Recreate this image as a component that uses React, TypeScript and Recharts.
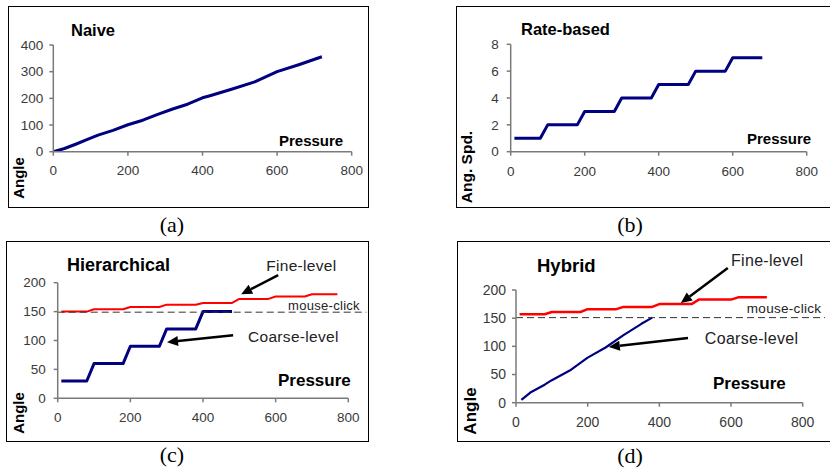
import React from 'react';
import { LineChart, Line, XAxis, YAxis, ReferenceLine } from 'recharts';

// ---------- data ----------
const xTicks = [0, 200, 400, 600, 800];

const naivePressure = [0, 30, 60, 90, 120, 160, 200, 240, 280, 320, 360, 400, 420, 480, 540, 600, 660, 720];
const naiveAngle = [0, 12, 28, 45, 62, 80, 101, 118, 140, 160, 178, 202, 210, 235, 262, 300, 327, 356];
const naiveYTicks = [0, 100, 200, 300, 400];

const ratePressure = [10, 80, 100, 180, 200, 280, 300, 380, 400, 480, 500, 580, 600, 680];
const rateSpeed = [1, 1, 2, 2, 3, 3, 4, 4, 5, 5, 6, 6, 7, 7];
const rateYTicks = [0, 2, 4, 6, 8];

const hierCoarsePressure = [10, 80, 100, 180, 200, 280, 300, 380, 400, 480];
const hierCoarseAngle = [30, 30, 60, 60, 90, 90, 120, 120, 150, 150];
const hierFinePressure = [10, 80, 100, 180, 200, 280, 300, 380, 400, 480, 500, 580, 600, 680, 700, 770];
const hierFineAngle = [150, 150, 154, 154, 158, 158, 162, 162, 165, 165, 172, 172, 176, 176, 180, 180];

const hybCoarsePressure = [15, 40, 80, 100, 150, 200, 250, 300, 350, 380];
const hybCoarseAngle = [5, 18, 32, 40, 57, 80, 98, 120, 140, 151];
const hybFinePressure = [10, 80, 100, 180, 200, 280, 300, 380, 400, 490, 510, 600, 620, 700];
const hybFineAngle = [157, 157, 161, 161, 166, 166, 170, 170, 175, 175, 183, 183, 187, 187];
const angleYTicks = [0, 50, 100, 150, 200];

// annotations (data coordinates)
const hierClickLevel = 149;
const hybClickLevel = 151;
const hierClickSpan = [0, 850];
const hybClickSpan = [0, 862];
const hierFineArrow = [{ x: 607, y: 213 }, { x: 505, y: 180 }];
const hierCoarseArrow = [{ x: 483, y: 109 }, { x: 301, y: 97 }];
const hybFineArrow = [{ x: 591, y: 239 }, { x: 460, y: 177 }];
const hybCoarseArrow = [{ x: 480, y: 115 }, { x: 259, y: 99 }];
const hierTexts = [
  { label: 'Fine-level', x: 574, y: 220, size: 15.5 },
  { label: 'Coarse-level', x: 524, y: 97, size: 15.5 },
  { label: 'mouse-click', x: 634, y: 153, size: 13 },
];
const hybTexts = [
  { label: 'Fine-level', x: 600, y: 243, size: 16 },
  { label: 'Coarse-level', x: 527, y: 104, size: 16 },
  { label: 'mouse-click', x: 644, y: 159, size: 13.5 },
];

const zip = (xs: number[], ys: number[]) => xs.map((x, i) => ({ x, y: ys[i] }));

const SANS = '"Liberation Sans", Arial, sans-serif';
const SERIF = '"Liberation Serif", "Times New Roman", serif';
const NAVY = '#000080';
const RED = '#ff0000';
const AXIS = '#7a7a7a';

const ArrowShape = (props: any) => {
  const { x1, y1, x2, y2 } = props;
  const dx = x2 - x1;
  const dy = y2 - y1;
  const len = Math.hypot(dx, dy) || 1;
  const ux = dx / len;
  const uy = dy / len;
  const hl = 11;
  const hw = 5;
  const bx = x2 - ux * hl;
  const by = y2 - uy * hl;
  return (
    <g>
      <line x1={x1} y1={y1} x2={bx} y2={by} stroke="#000" strokeWidth={2.5} />
      <polygon
        points={`${x2},${y2} ${bx - uy * hw},${by + ux * hw} ${bx + uy * hw},${by - ux * hw}`}
        fill="#000"
      />
    </g>
  );
};

const textShape = (label: string, size: number) => (props: any) => (
  <text x={props.x1} y={props.y1} fontFamily={SANS} fontSize={size} fill="#222" letterSpacing={0.3}>
    {label}
  </text>
);

type Box = { left: number; top: number; width: number; height: number };
type Plot = { left: number; right: number; top: number; bottom: number };
type Series = { data: { x: number; y: number }[]; color: string; width: number };

const YW = 40;
const XH = 30;

function Panel(props: {
  box: Box;
  plot: Plot;
  yDomain: [number, number];
  yTicks: number[];
  yTickMargin: number;
  xTickMargin: number;
  fontSize: number;
  series: Series[];
  children?: React.ReactNode;
}) {
  const { box, plot, yDomain, yTicks, yTickMargin, xTickMargin, fontSize, series, children } = props;
  const margin = {
    top: plot.top - box.top,
    left: plot.left - box.left - YW,
    right: box.left + box.width - plot.right,
    bottom: box.top + box.height - plot.bottom - XH,
  };
  const tick = { fill: '#3a3a3a', fontSize, fontFamily: SANS };
  return (
    <div style={{ position: 'absolute', left: box.left, top: box.top }}>
      <LineChart width={box.width} height={box.height} margin={margin}>
        <XAxis
          type="number"
          dataKey="x"
          domain={[0, 800]}
          ticks={xTicks}
          height={XH}
          tick={tick}
          tickSize={4}
          tickMargin={xTickMargin}
          axisLine={{ stroke: AXIS, strokeWidth: 1.5 }}
          tickLine={{ stroke: AXIS, strokeWidth: 1.5 }}
          allowDataOverflow
        />
        <YAxis
          type="number"
          dataKey="y"
          domain={yDomain}
          ticks={yTicks}
          width={YW}
          tick={tick}
          tickSize={4}
          tickMargin={yTickMargin}
          axisLine={{ stroke: AXIS, strokeWidth: 1.5 }}
          tickLine={{ stroke: AXIS, strokeWidth: 1.5 }}
          allowDataOverflow
        />
        {series.map((s, i) => (
          <Line
            key={i}
            data={s.data}
            dataKey="y"
            type="linear"
            stroke={s.color}
            strokeWidth={s.width}
            dot={false}
            activeDot={false}
            isAnimationActive={false}
            strokeLinejoin="round"
          />
        ))}
        {children}
      </LineChart>
    </div>
  );
}

function annotations(
  level: number,
  span: number[],
  arrows: { x: number; y: number }[][],
  texts: { label: string; x: number; y: number; size: number }[]
) {
  const out: React.ReactNode[] = [];
  out.push(
    <ReferenceLine
      key="click"
      segment={[{ x: span[0], y: level }, { x: span[1], y: level }]}
      stroke="#333"
      strokeWidth={1}
      strokeDasharray="7 4"
      ifOverflow="visible"
    />
  );
  arrows.forEach((a, i) =>
    out.push(<ReferenceLine key={'a' + i} segment={a} ifOverflow="visible" shape={ArrowShape} />)
  );
  texts.forEach((t, i) =>
    out.push(
      <ReferenceLine
        key={'t' + i}
        segment={[{ x: t.x, y: t.y }, { x: t.x, y: t.y }]}
        ifOverflow="visible"
        shape={textShape(t.label, t.size)}
      />
    )
  );
  return out;
}

export default function App() {
  return (
    <div style={{ position: 'absolute', left: 0, top: 0, width: 830, height: 469, background: '#fff', overflow: 'hidden' }}>
      <Panel
        box={{ left: 8, top: 6, width: 361, height: 202 }}
        plot={{ left: 53.3, right: 351.7, top: 45, bottom: 151.7 }}
        yDomain={[0, 400]}
        yTicks={naiveYTicks}
        yTickMargin={6}
        xTickMargin={10}
        fontSize={13.5}
        series={[{ data: zip(naivePressure, naiveAngle), color: NAVY, width: 3 }]}
      />
      <Panel
        box={{ left: 456, top: 6, width: 380, height: 202 }}
        plot={{ left: 510.7, right: 806.7, top: 44.3, bottom: 151.7 }}
        yDomain={[0, 8]}
        yTicks={rateYTicks}
        yTickMargin={8}
        xTickMargin={11}
        fontSize={13.5}
        series={[{ data: zip(ratePressure, rateSpeed), color: NAVY, width: 3 }]}
      />
      <Panel
        box={{ left: 6, top: 241, width: 363, height: 201 }}
        plot={{ left: 57.7, right: 348.3, top: 282.7, bottom: 398.3 }}
        yDomain={[0, 200]}
        yTicks={angleYTicks}
        yTickMargin={8}
        xTickMargin={10}
        fontSize={13.5}
        series={[
          { data: zip(hierFinePressure, hierFineAngle), color: RED, width: 2 },
          { data: zip(hierCoarsePressure, hierCoarseAngle), color: NAVY, width: 3 },
        ]}
      >
        {annotations(hierClickLevel, hierClickSpan, [hierFineArrow, hierCoarseArrow], hierTexts)}
      </Panel>
      <Panel
        box={{ left: 457, top: 241, width: 380, height: 201 }}
        plot={{ left: 516, right: 802.7, top: 290, bottom: 402.7 }}
        yDomain={[0, 200]}
        yTicks={angleYTicks}
        yTickMargin={6}
        xTickMargin={10}
        fontSize={14}
        series={[
          { data: zip(hybFinePressure, hybFineAngle), color: RED, width: 2.5 },
          { data: zip(hybCoarsePressure, hybCoarseAngle), color: NAVY, width: 2.2 },
        ]}
      >
        {annotations(hybClickLevel, hybClickSpan, [hybFineArrow, hybCoarseArrow], hybTexts)}
      </Panel>

      <svg width={830} height={469} style={{ position: 'absolute', left: 0, top: 0, pointerEvents: 'none' }}>
        <g fill="none" stroke="#000" strokeWidth={1}>
          <rect x={8.5} y={6.5} width={360} height={201} />
          <rect x={456.5} y={6.5} width={400} height={201} />
          <rect x={6.5} y={241.5} width={362} height={200} />
          <rect x={457.5} y={241.5} width={400} height={200} />
        </g>
        <g fontFamily={SANS} fontWeight="bold" fill="#000">
          <text x={71} y={36} fontSize={16.5}>Naive</text>
          <text x={521} y={35} fontSize={16.5}>Rate-based</text>
          <text x={67} y={270.5} fontSize={18}>Hierarchical</text>
          <text x={537} y={271.5} fontSize={18.5}>Hybrid</text>

          <text x={279} y={146} fontSize={15}>Pressure</text>
          <text x={747} y={144} fontSize={15}>Pressure</text>
          <text x={278} y={385.5} fontSize={17}>Pressure</text>
          <text x={713} y={389} fontSize={17}>Pressure</text>

          <text x={18} y={178} fontSize={15} textAnchor="middle" dominantBaseline="central" transform="rotate(-90 18 178)">Angle</text>
          <text x={466} y={167} fontSize={15.5} textAnchor="middle" dominantBaseline="central" transform="rotate(-90 466 167)">Ang. Spd.</text>
          <text x={18} y={413} fontSize={15} textAnchor="middle" dominantBaseline="central" transform="rotate(-90 18 413)">Angle</text>
          <text x={470} y={411} fontSize={17} textAnchor="middle" dominantBaseline="central" transform="rotate(-90 470 411)">Angle</text>
        </g>
        <g fontFamily={SERIF} fontSize={22} fill="#000" textAnchor="middle">
          <text x={172} y={232}>(a)</text>
          <text x={630} y={232}>(b)</text>
          <text x={172} y={462}>(c)</text>
          <text x={630} y={463}>(d)</text>
        </g>
      </svg>
    </div>
  );
}
